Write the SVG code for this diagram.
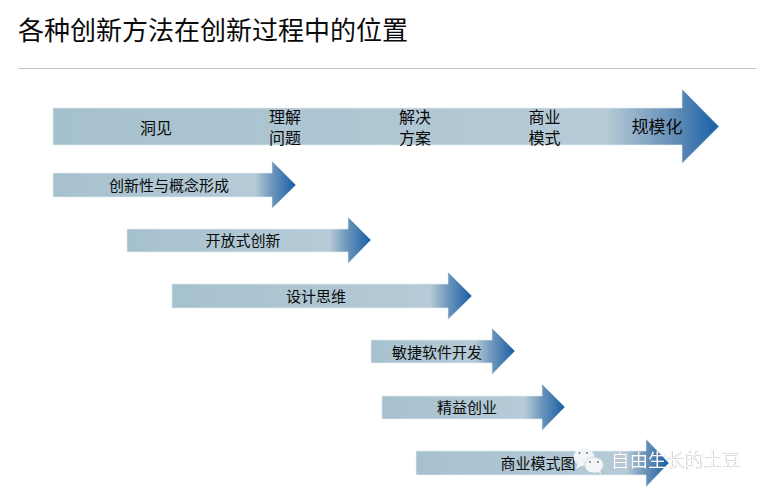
<svg xmlns="http://www.w3.org/2000/svg" width="767" height="495" viewBox="0 0 767 495">
<style>
text{font-family:"Noto Sans CJK SC","Noto Sans CJK TC",sans-serif;fill:#0a0a0a}
.title{font-size:26px}
.big{font-size:16px;text-anchor:middle}
.small{font-size:15px;text-anchor:middle}
.arrow{stroke:#e6eef2;stroke-width:.6}
.wm{font-size:18.500px;fill:#fff;filter:drop-shadow(.8px .8px 0 #666)}
</style>
<defs>
<linearGradient id="g0" gradientUnits="userSpaceOnUse" x1="53" y1="0" x2="719" y2="0"><stop offset="0" stop-color="#a6c1ce"/><stop offset=".83" stop-color="#b6cbd7"/><stop offset=".94" stop-color="#5c8ab5"/><stop offset="1" stop-color="#175da6"/></linearGradient>
<linearGradient id="g1" gradientUnits="userSpaceOnUse" x1="53" y1="0" x2="296" y2="0"><stop offset="0" stop-color="#a6c1ce"/><stop offset=".83" stop-color="#b6cbd7"/><stop offset=".9" stop-color="#6e97bb"/><stop offset="1" stop-color="#175da6"/></linearGradient>
<linearGradient id="g2" gradientUnits="userSpaceOnUse" x1="127" y1="0" x2="371" y2="0"><stop offset="0" stop-color="#a6c1ce"/><stop offset=".83" stop-color="#b6cbd7"/><stop offset=".9" stop-color="#6e97bb"/><stop offset="1" stop-color="#175da6"/></linearGradient>
<linearGradient id="g3" gradientUnits="userSpaceOnUse" x1="172" y1="0" x2="472" y2="0"><stop offset="0" stop-color="#a6c1ce"/><stop offset=".86" stop-color="#b6cbd7"/><stop offset=".92" stop-color="#6e97bb"/><stop offset="1" stop-color="#175da6"/></linearGradient>
<linearGradient id="g4" gradientUnits="userSpaceOnUse" x1="371" y1="0" x2="515" y2="0"><stop offset="0" stop-color="#a6c1ce"/><stop offset=".72" stop-color="#b6cbd7"/><stop offset=".84" stop-color="#6e97bb"/><stop offset="1" stop-color="#175da6"/></linearGradient>
<linearGradient id="g5" gradientUnits="userSpaceOnUse" x1="382" y1="0" x2="565" y2="0"><stop offset="0" stop-color="#a6c1ce"/><stop offset=".78" stop-color="#b6cbd7"/><stop offset=".87" stop-color="#6e97bb"/><stop offset="1" stop-color="#175da6"/></linearGradient>
<linearGradient id="g6" gradientUnits="userSpaceOnUse" x1="416" y1="0" x2="669" y2="0"><stop offset="0" stop-color="#a6c1ce"/><stop offset=".83" stop-color="#b6cbd7"/><stop offset=".9" stop-color="#6e97bb"/><stop offset="1" stop-color="#175da6"/></linearGradient>
</defs>
<rect width="767" height="495" fill="#fff"/>
<g id="header">
<text class="title" x="18" y="40">各种创新方法在创新过程中的位置</text>
<line x1="18" y1="68.500" x2="756" y2="68.500" stroke="#c4c4c4" stroke-width="1"/>
</g>
<g id="connectors"></g>
<g id="node-main">
<polygon class="arrow" fill="url(#g0)" points="53,108 682,108 682,89 719,126.500 682,163.500 682,145 53,145"/>
<text class="big" x="156" y="134">洞见</text>
<text class="big" y="123"><tspan x="285">理解</tspan><tspan x="285" dy="20.500">问题</tspan></text>
<text class="big" y="123"><tspan x="415">解决</tspan><tspan x="415" dy="20.500">方案</tspan></text>
<text class="big" y="123"><tspan x="544.500">商业</tspan><tspan x="544.500" dy="20.500">模式</tspan></text>
<text class="big" x="657" y="133" style="font-size:17px">规模化</text>
</g>
<g id="node-ideation">
<polygon class="arrow" fill="url(#g1)" points="53,173 272,173 272,161 296,185 272,208.500 272,197 53,197"/>
<text class="small" x="169" y="191">创新性与概念形成</text>
</g>
<g id="node-open">
<polygon class="arrow" fill="url(#g2)" points="127,229 348,229 348,217 371,240 348,263.500 348,252 127,252"/>
<text class="small" x="243" y="246">开放式创新</text>
</g>
<g id="node-design">
<polygon class="arrow" fill="url(#g3)" points="172,284 448,284 448,272 472,296 448,319.500 448,308 172,308"/>
<text class="small" x="316" y="302">设计思维</text>
</g>
<g id="node-agile">
<polygon class="arrow" fill="url(#g4)" points="371,340 492,340 492,328 515,351 492,374.500 492,363 371,363"/>
<text class="small" x="437" y="358">敏捷软件开发</text>
</g>
<g id="node-lean">
<polygon class="arrow" fill="url(#g5)" points="382,396 542,396 542,384 565,407 542,430.500 542,419 382,419"/>
<text class="small" x="467" y="413">精益创业</text>
</g>
<g id="node-bmc">
<polygon class="arrow" fill="url(#g6)" points="416,451 646,451 646,439 669,463 646,487 646,475 416,475"/>
<text class="small" x="538" y="469">商业模式图</text>
</g>
<g id="watermark">
<ellipse cx="584" cy="457" rx="10.500" ry="9" fill="#f2f5f7"/>
<polygon points="578,463 576,469 583,465" fill="#f2f5f7"/>
<ellipse cx="594" cy="465" rx="9.500" ry="8" fill="#f2f5f7" stroke="#bbb" stroke-width=".5"/>
<polygon points="597,471 601,474 600,469" fill="#f2f5f7"/>
<circle cx="579.500" cy="453" r="1" fill="#777"/><circle cx="587" cy="453" r="1" fill="#777"/>
<circle cx="590" cy="462" r="1" fill="#777"/><circle cx="598" cy="462" r="1" fill="#777"/>
<text class="wm" x="611" y="467">自由生长的土豆</text>
</g>
</svg>
